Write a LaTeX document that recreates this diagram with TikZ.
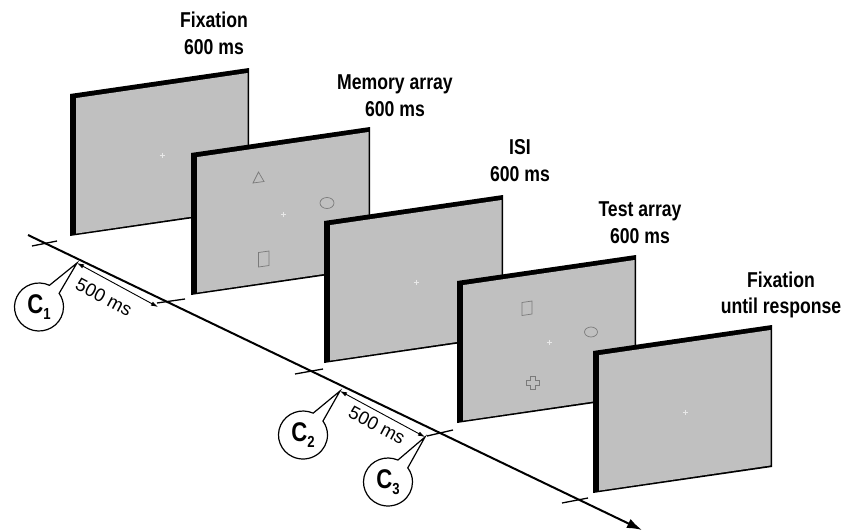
\documentclass[tikz,border=0pt]{standalone}
\usepackage{fontspec}
\setmainfont{Liberation Sans}
\newfontfamily\narrowfont[FakeStretch=0.82]{Liberation Sans}
\usetikzlibrary{arrows.meta,shapes.callouts}
\definecolor{scrgray}{HTML}{C0C0C0}
\definecolor{figgray}{HTML}{7A7A7A}
\definecolor{crossgray}{HTML}{E8E8E8}
\tikzset{
  screen/.pic={
    \fill[black] (0,0) -- (179,-26) -- (179,116) -- (0,142) -- cycle;
    \fill[scrgray] (6,4.1) -- (177.6,-21) -- (177.6,114.4) -- (6,139.6) -- cycle;
    \draw[crossgray,line width=0.35pt] (89.5,61) -- (94.5,61) (92,58.5) -- (92,63.5);
  },
  lbl/.style={font=\narrowfont\bfseries\fontsize{21.5}{26.5}\selectfont, align=center, inner sep=0pt},
  timeline/.style={line width=2pt, -{Latex[length=15pt,width=10pt]}},
  tick/.style={line width=1.3pt},
  dim/.style={line width=0.9pt, {Latex[length=7pt,width=4.5pt]}-{Latex[length=7pt,width=4.5pt]}},
  dimtxt/.style={font=\fontsize{18.5}{20}\selectfont, inner sep=0pt, rotate=-28},
  cbub/.style={ellipse callout, draw, fill=white, line width=1.2pt, minimum width=49pt,
    minimum height=48pt, inner sep=0pt, callout pointer arc=30,
    font=\narrowfont\bfseries\fontsize{27}{27}\selectfont},
  fig/.style={draw=figgray, line width=0.7pt}
}
\newcommand{\csub}[1]{C\raisebox{-6pt}{\fontsize{16}{16}\selectfont #1}}
\begin{document}
\begin{tikzpicture}[x=1pt,y=-1pt]
\useasboundingbox (0,0) rectangle (845,530);
% timeline
\coordinate (t0) at (28,235);
\coordinate (t1) at (642,530);
\draw[timeline] (t0) -- (t1);
% ticks
\coordinate (k1a) at (32,246); \coordinate (k1b) at (57,241);
\coordinate (k2a) at (157,303); \coordinate (k2b) at (185,299);
\coordinate (k3a) at (295,374); \coordinate (k3b) at (323,369);
\coordinate (k4a) at (427,436); \coordinate (k4b) at (453,430);
\coordinate (k5a) at (562,503); \coordinate (k5b) at (588,498);
\draw[tick] (k1a) -- (k1b) (k2a) -- (k2b) (k3a) -- (k3b) (k4a) -- (k4b) (k5a) -- (k5b);
% screens
\pic (s1) at (70,94) {screen};
\pic (s2) at (191,153) {screen};
\draw[fig] (253,183) -- (264,181.5) -- (258.5,172) -- cycle;
\draw[fig] (327,203) ellipse [x radius=7, y radius=5.5];
\draw[fig] (258.5,252.5) -- (269,251) -- (269,265.5) -- (258.5,267) -- cycle;
\pic (s3) at (324,221) {screen};
\pic (s4) at (457,281) {screen};
\draw[fig] (522,302.5) -- (532,301) -- (532,314) -- (522,315.5) -- cycle;
\draw[fig] (591,332) ellipse [x radius=6.5, y radius=5];
\draw[fig] (530.5,376.5) -- (535.5,376.5) -- (535.5,380.5) -- (539.5,380.5) -- (539.5,385.5)
  -- (535.5,385.5) -- (535.5,389.5) -- (530.5,389.5) -- (530.5,385.5) -- (526.5,385.5)
  -- (526.5,380.5) -- (530.5,380.5) -- cycle;
\pic (s5) at (593,351) {screen};
% labels
\node[lbl] (l1) at (214,33.5) {Fixation\\600 ms};
\node[lbl] (l2) at (395,95.5) {Memory array\\600 ms};
\node[lbl] (l3) at (520,160.5) {ISI\\600 ms};
\node[lbl] (l4) at (640,222.5) {Test array\\600 ms};
\node[lbl] (l5) at (781,294.8) {Fixation\\until response};
% dimension arrows
\coordinate (d1a) at (77,263); \coordinate (d1b) at (158,307);
\coordinate (d2a) at (340,391); \coordinate (d2b) at (425,437);
\draw[dim] (d1a) -- (d1b);
\draw[dim] (d2a) -- (d2b);
\node[dimtxt] (m1) at (104,297) {500 ms};
\node[dimtxt] (m2) at (377,425) {500 ms};
% callouts
\node[cbub, callout absolute pointer={(d1a)}] (c1) at (39,307) {\csub{1}};
\node[cbub, callout absolute pointer={(d2a)}] (c2) at (303,435) {\csub{2}};
\node[cbub, callout absolute pointer={(d2b)}] (c3) at (388,482) {\csub{3}};
\end{tikzpicture}
\end{document}
